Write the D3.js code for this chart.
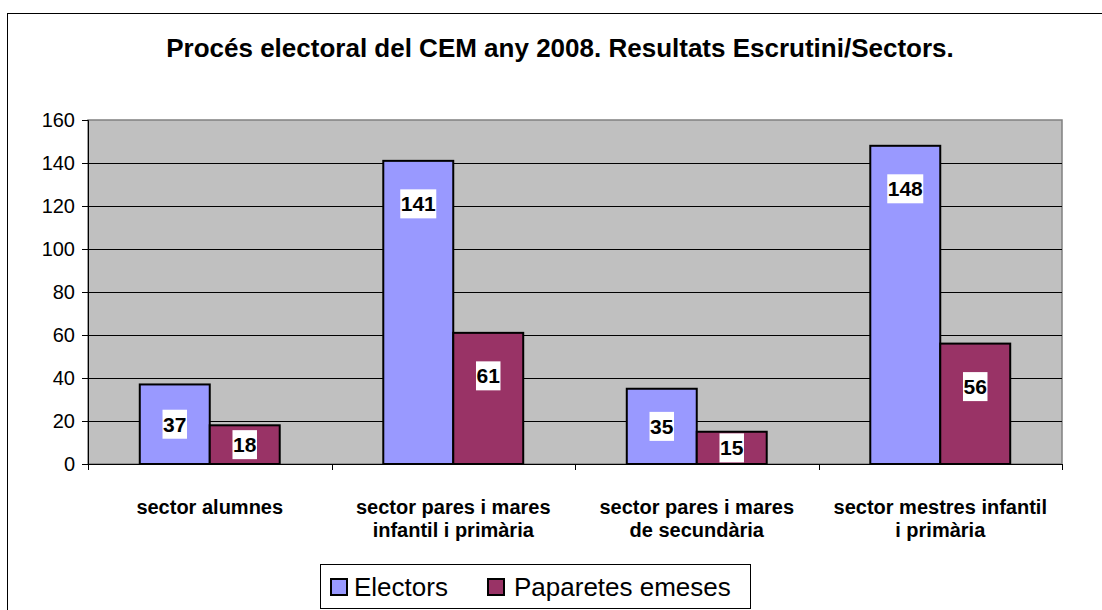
<!DOCTYPE html>
<html>
<head>
<meta charset="utf-8">
<script src="https://cdn.jsdelivr.net/npm/d3@7"></script>
<style>
  body { margin: 0; background: #fff; }
  svg { font-family: "Liberation Sans", Arial, sans-serif; }
</style>
</head>
<body>
<svg id="chart"></svg>
<script>
let categories = [
  ['sector alumnes'],
  ['sector pares i mares', 'infantil i primària'],
  ['sector pares i mares', 'de secundària'],
  ['sector mestres infantil', 'i primària']
];
let seriesNames = ['Electors', 'Paparetes emeses'];
let electors = [37, 141, 35, 148];
let paparetes = [18, 61, 15, 56];
let yTicks = [0, 20, 40, 60, 80, 100, 120, 140, 160];
let colors = ['#9999FF', '#993366'];

let width = 1102;
let height = 610;

let plotLeft = 88;
let plotRight = 1062;
let plotTop = 120;
let plotBottom = 464;

let svg = d3.select('#chart')
  .attr('width', width)
  .attr('height', height);

// outer chart border (cut off at right and bottom like the source)
svg.append('rect')
   .attr('x', 7.5).attr('y', 13.5)
   .attr('width', 1110).attr('height', 620)
   .attr('fill', '#fff')
   .attr('stroke', '#000')
   .attr('stroke-width', 1);

svg.append('text')
   .attr('x', 560).attr('y', 57)
   .attr('text-anchor', 'middle')
   .attr('font-weight', 'bold')
   .attr('font-size', 26)
   .text('Procés electoral del CEM any 2008. Resultats Escrutini/Sectors.');

let xScale = d3.scaleBand()
  .domain(d3.range(categories.length))
  .range([plotLeft, plotRight])
  .paddingInner(0)
  .paddingOuter(0);

let inner = d3.scaleBand()
  .domain([0, 1])
  .range([0, xScale.bandwidth()])
  .paddingOuter(0.74)
  .paddingInner(0);

let yScale = d3.scaleLinear()
  .domain([0, 160])
  .range([plotBottom, plotTop]);

// plot area
svg.append('rect')
   .attr('x', plotLeft).attr('y', plotTop)
   .attr('width', plotRight - plotLeft).attr('height', plotBottom - plotTop)
   .attr('fill', '#C0C0C0')
   .attr('stroke', '#808080')
   .attr('stroke-width', 1.5);

// gridlines
svg.append('g')
   .selectAll('line')
   .data(yTicks.filter(d => d > 0 && d < 160))
   .enter()
   .append('line')
   .attr('x1', plotLeft).attr('x2', plotRight)
   .attr('y1', d => Math.round(yScale(d)) + 0.5)
   .attr('y2', d => Math.round(yScale(d)) + 0.5)
   .attr('stroke', '#000')
   .attr('stroke-width', 1);

// y axis
let yAxis = d3.axisLeft(yScale).tickValues(yTicks).tickSize(6).tickPadding(7);
let gy = svg.append('g')
   .attr('transform', 'translate(' + plotLeft + ',0)')
   .call(yAxis);
gy.selectAll('text').attr('font-size', 20).attr('fill', '#000').attr('font-family', '"Liberation Sans", Arial, sans-serif');
gy.select('.domain').attr('stroke', '#000');
gy.selectAll('line').attr('stroke', '#000');

// x axis baseline + category ticks
svg.append('line')
   .attr('x1', plotLeft).attr('x2', plotRight)
   .attr('y1', plotBottom + 0.5).attr('y2', plotBottom + 0.5)
   .attr('stroke', '#000');
svg.append('g')
   .selectAll('line')
   .data(d3.range(categories.length + 1))
   .enter()
   .append('line')
   .attr('x1', d => Math.round(plotLeft + d * xScale.bandwidth()) + 0.5)
   .attr('x2', d => Math.round(plotLeft + d * xScale.bandwidth()) + 0.5)
   .attr('y1', plotBottom).attr('y2', plotBottom + 6)
   .attr('stroke', '#000');

// category labels
let catG = svg.append('g')
   .selectAll('text')
   .data(categories)
   .enter()
   .append('text')
   .attr('text-anchor', 'middle')
   .attr('font-weight', 'bold')
   .attr('font-size', 20)
   .attr('x', (d, i) => xScale(i) + xScale.bandwidth() / 2)
   .attr('y', 514);
catG.selectAll('tspan')
   .data(d => d)
   .enter()
   .append('tspan')
   .attr('x', function () { return d3.select(this.parentNode).attr('x'); })
   .attr('dy', (d, i) => i === 0 ? 0 : 23)
   .text(d => d);

// bars
let series = [electors, paparetes];
let barData = [];
series.forEach((vals, s) => {
  vals.forEach((v, i) => barData.push({ s: s, i: i, v: v }));
});

svg.append('g')
   .selectAll('rect')
   .data(barData)
   .enter()
   .append('rect')
   .attr('x', d => xScale(d.i) + inner(d.s))
   .attr('y', d => yScale(d.v))
   .attr('width', inner.bandwidth())
   .attr('height', d => plotBottom - yScale(d.v))
   .attr('fill', d => colors[d.s])
   .attr('stroke', '#000')
   .attr('stroke-width', 2);

// value labels with white boxes, near the top of each bar
let lbl = svg.append('g')
   .selectAll('g')
   .data(barData)
   .enter()
   .append('g')
   .attr('transform', d => {
     let cx = xScale(d.i) + inner(d.s) + inner.bandwidth() / 2;
     let top = yScale(d.v);
     let cy = Math.min(top + 43, (top + plotBottom) / 2);
     return 'translate(' + cx + ',' + cy + ')';
   });
lbl.append('rect')
   .attr('x', d => -(String(d.v).length * 11.5 + 1.5) / 2)
   .attr('y', -14.5)
   .attr('width', d => String(d.v).length * 11.5 + 1.5)
   .attr('height', 29)
   .attr('fill', '#fff');
lbl.append('text')
   .attr('text-anchor', 'middle')
   .attr('dy', 7.5)
   .attr('font-weight', 'bold')
   .attr('font-size', 21)
   .text(d => d.v);

// legend
let legend = svg.append('g').attr('transform', 'translate(320,564)');
legend.append('rect')
   .attr('x', 0.5).attr('y', 0.5)
   .attr('width', 430).attr('height', 44)
   .attr('fill', '#fff')
   .attr('stroke', '#000');
let legX = [10, 167];
let items = legend.selectAll('g.item')
   .data(seriesNames)
   .enter()
   .append('g')
   .attr('class', 'item')
   .attr('transform', (d, i) => 'translate(' + legX[i] + ',0)');
items.append('rect')
   .attr('x', 1).attr('y', 15)
   .attr('width', 16).attr('height', 16)
   .attr('fill', (d, i) => colors[i])
   .attr('stroke', '#000')
   .attr('stroke-width', 2);
items.append('text')
   .attr('x', (d, i) => i === 0 ? 24 : 27)
   .attr('y', 32)
   .attr('font-size', 26)
   .text(d => d);
</script>
</body>
</html>
